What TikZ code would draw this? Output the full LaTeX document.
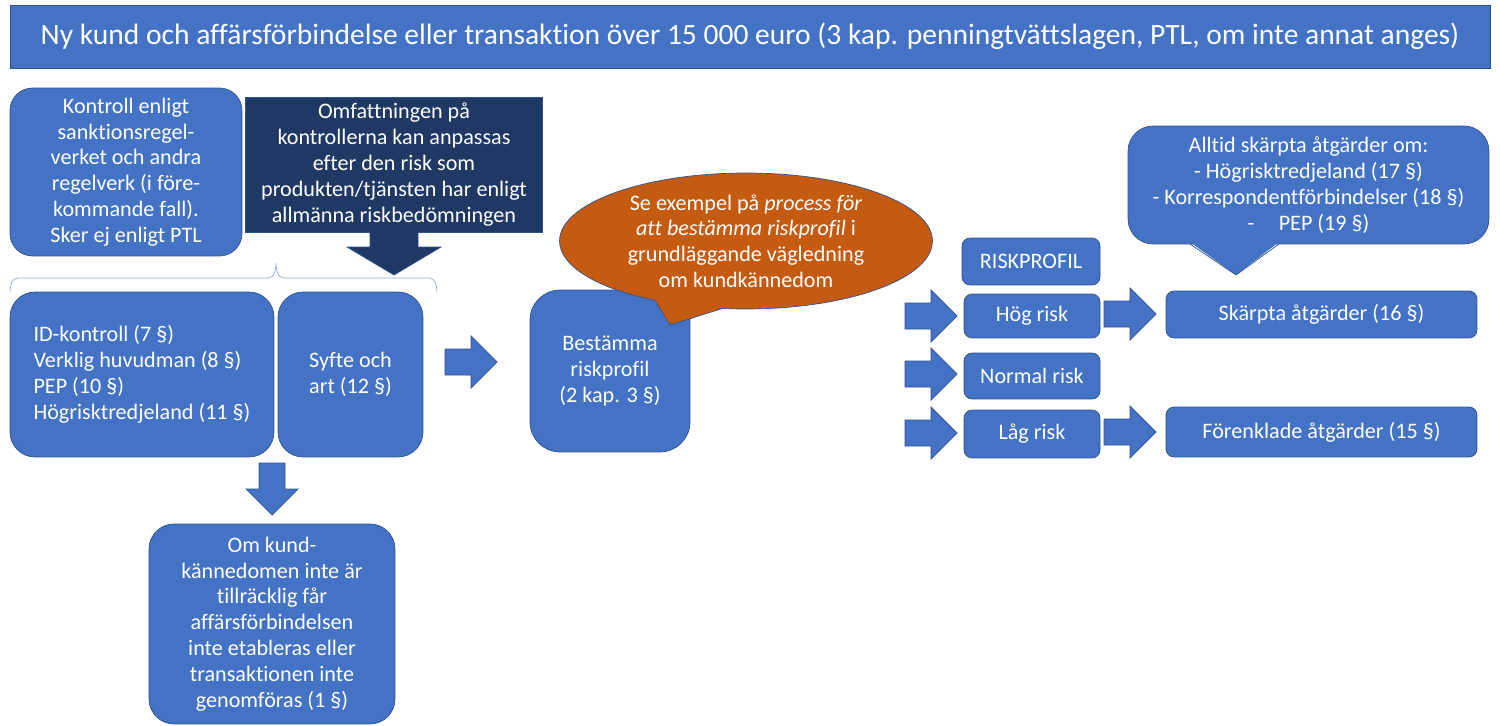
\documentclass[tikz,border=0pt]{standalone}
\usepackage[usenames,dvipsnames]{xcolor}
\usepackage{fontspec}
\setmainfont{Carlito}[Ligatures=NoCommon]
\usepackage{tikz}
\usetikzlibrary{shapes.callouts}

\definecolor{boxblue}{HTML}{4472C4}
\definecolor{boxline}{HTML}{2F528F}
\definecolor{navy}{HTML}{203864}
\definecolor{rust}{HTML}{C55A11}
\definecolor{bracecol}{HTML}{8FAADC}

\tikzset{
	rarrow/.pic={\path[fill=boxblue, draw=boxline, thin]
		(0,-13) -- (26,-13) -- (26,-26) -- (52,0) -- (26,26) -- (26,13) -- (0,13) -- cycle;}
}

\begin{document}
\begin{tikzpicture}[x=0.02cm, y=-0.02cm, font=\fontsize{12.6}{14.7}\selectfont]
	\useasboundingbox (0,0) rectangle (1500,726);
	\coordinate (bubbletip) at (670,325);

	\begin{scope}[every node/.style={draw=boxline, fill=boxblue, thin, text=white,
			align=center, inner sep=2pt}]
		\node[minimum width=29.6cm, minimum height=1.26cm, font=\fontsize{16.8}{19}\selectfont]
			(title) at (750,36.5) {Ny kund och affärsförbindelse eller transaktion över 15 000 euro (3 kap. penningtvättslagen, PTL, om inte annat anges)};
		\node[minimum width=4.64cm, minimum height=3.36cm, rounded corners=0.45cm] (kontroll) at (126,172)
			{Kontroll enligt\\sanktionsregel-\\verket och andra\\regelverk (i före-\\kommande fall).\\Sker ej enligt PTL};
		\node[fill=navy, minimum width=5.88cm, minimum height=2.7cm] (omfatt) at (394,164.5)
			{\raisebox{-3pt}{\parbox{5.8cm}{\centering Omfattningen på\\kontrollerna kan anpassas\\efter den risk som\\produkten/tjänsten har enligt\\allmänna riskbedömningen}}};
		\node[align=left, minimum width=5.28cm, minimum height=3.3cm, rounded corners=0.5cm] (idkontroll) at (142,374.5)
			{ID-kontroll (7 §)\\Verklig huvudman (8 §)\\PEP (10 §)\\Högrisktredjeland (11 §)};
		\node[align=left, minimum width=2.9cm, minimum height=3.3cm, rounded corners=0.5cm] (syfte) at (350.5,374.5)
			{Syfte och\\art (12 §)};
		\node[minimum width=4.92cm, minimum height=4cm, rounded corners=0.5cm] (omkund) at (272,624)
			{Om kund-\\kännedomen inte är\\tillräcklig får\\affärsförbindelsen\\inte etableras eller\\transaktionen inte\\genomföras (1 §)};
		\node[minimum width=3.2cm, minimum height=3.24cm, rounded corners=0.6cm] (bestamma) at (610,371)
			{Bestämma\\riskprofil\\(2 kap. 3 §)};
		\node[ellipse callout, fill=rust, callout absolute pointer={(bubbletip)}, callout pointer arc=22,
			minimum width=7.46cm, minimum height=2.72cm, inner sep=0pt] (bubble) at (746,241)
			{Se exempel på \textit{process för}\\\textit{att bestämma riskprofil} i\\grundläggande vägledning\\om kundkännedom};
		\node[minimum width=2.76cm, minimum height=0.94cm, rounded corners=0.16cm] (riskprofil) at (1031,261.5) {RISKPROFIL};
		\node[minimum width=2.72cm, minimum height=0.88cm, rounded corners=0.16cm] (hog) at (1032,316) {Hög risk};
		\node[minimum width=2.72cm, minimum height=0.92cm, rounded corners=0.16cm] (normal) at (1032,376) {Normal risk};
		\node[minimum width=2.72cm, minimum height=0.96cm, rounded corners=0.16cm] (lag) at (1032,434) {Låg risk};
		\node[minimum width=6.22cm, minimum height=0.94cm, rounded corners=0.16cm] (skarpta) at (1321.5,314.5) {Skärpta åtgärder (16 §)};
		\node[minimum width=6.22cm, minimum height=1cm, rounded corners=0.16cm] (forenklade) at (1321.5,432) {Förenklade åtgärder (15 §)};
		\node[minimum width=7.22cm, minimum height=2.36cm, rounded corners=0.5cm] (alltid) at (1308.5,185)
			{Alltid skärpta åtgärder om:\\- Högrisktredjeland (17 §)\\- Korrespondentförbindelser (18 §)\\-\hspace{1.1em}PEP (19 §)};
	\end{scope}

	% pointers of the two boxes
	\fill[navy] (370,230) -- (370,247) -- (347,247) -- (394,275) -- (441,247) -- (418,247) -- (418,230) -- cycle;
	\draw[boxline, thin] (370,232) -- (370,247) -- (347,247) -- (394,275) -- (441,247) -- (418,247) -- (418,232);
	\fill[boxblue] (1190,242) -- (1236,275) -- (1279,242) -- cycle;
	\draw[boxline, thin] (1190,244) -- (1236,275) -- (1279,244);

	% brace over the two boxes
	\draw[bracecol, thin] (10,292) to[out=90,in=180] (18,278) -- (268,278) to[out=0,in=-90] (276,263)
		to[out=-90,in=180] (284,278) -- (429,278) to[out=0,in=90] (437,292);

	\pic at (445,362) {rarrow};
	\pic[rotate=-90] at (272,463) {rarrow};
	\foreach \y in {316,374,433} \pic at (905,\y) {rarrow};
	\foreach \y in {314,432} \pic at (1104,\y) {rarrow};
\end{tikzpicture}
\end{document}
